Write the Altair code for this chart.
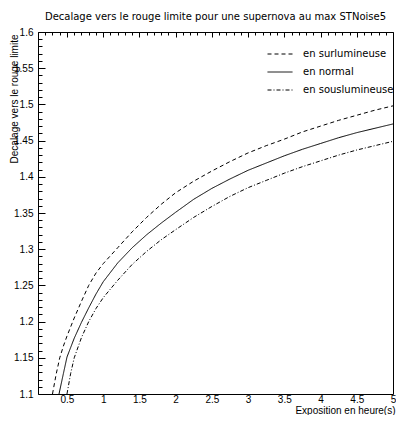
import altair as alt
import pandas as pd

# ---- data ----
x_sur = [0.30, 0.35, 0.4, 0.45, 0.5, 0.6, 0.7, 0.8, 0.9, 1.0, 1.2, 1.4, 1.6, 1.8, 2.0, 2.25, 2.5, 2.75, 3.0, 3.25, 3.5, 3.75, 4.0, 4.25, 4.5, 4.75, 5.0]
y_sur = [1.100, 1.127, 1.150, 1.166, 1.180, 1.205, 1.228, 1.250, 1.267, 1.280, 1.302, 1.324, 1.344, 1.362, 1.378, 1.394, 1.408, 1.421, 1.433, 1.443, 1.452, 1.462, 1.470, 1.478, 1.485, 1.492, 1.498]

x_norm = [0.39, 0.45, 0.5, 0.6, 0.7, 0.8, 0.9, 1.0, 1.2, 1.4, 1.6, 1.8, 2.0, 2.25, 2.5, 2.75, 3.0, 3.25, 3.5, 3.75, 4.0, 4.25, 4.5, 4.75, 5.0]
y_norm = [1.100, 1.128, 1.151, 1.177, 1.199, 1.219, 1.238, 1.255, 1.281, 1.302, 1.320, 1.336, 1.351, 1.369, 1.384, 1.397, 1.409, 1.419, 1.429, 1.438, 1.446, 1.454, 1.461, 1.467, 1.473]

x_sous = [0.50, 0.55, 0.6, 0.7, 0.8, 0.9, 1.0, 1.2, 1.4, 1.6, 1.8, 2.0, 2.25, 2.5, 2.75, 3.0, 3.25, 3.5, 3.75, 4.0, 4.25, 4.5, 4.75, 5.0]
y_sous = [1.100, 1.128, 1.150, 1.178, 1.200, 1.218, 1.233, 1.257, 1.279, 1.297, 1.313, 1.327, 1.344, 1.359, 1.373, 1.385, 1.395, 1.405, 1.414, 1.422, 1.430, 1.437, 1.443, 1.449]

series_names = ["en surlumineuse", "en normal", "en souslumineuse"]

x_ticks = [round(0.1 + 0.1 * i, 2) for i in range(50)]
y_ticks = [round(1.1 + 0.01 * i, 2) for i in range(51)]

rows = []
for name, xs, ys in zip(series_names, [x_sur, x_norm, x_sous], [y_sur, y_norm, y_sous]):
    for a, b in zip(xs, ys):
        rows.append({"x": a, "y": b, "serie": name, "order": a})
df = pd.DataFrame(rows)

FONT = "Liberation Sans"
FONT2 = "DejaVu Sans"
W, H = 355, 362

xscale = alt.Scale(domain=[0.1, 5], nice=False, zero=False)
yscale = alt.Scale(domain=[1.1, 1.6], nice=False, zero=False)
dash = alt.Scale(domain=series_names, range=[[4, 3], [1, 0], [4, 2, 1, 2]])

major_x = "abs(datum.value*2 - round(datum.value*2)) < 0.001"
major_y = "abs(datum.value*20 - round(datum.value*20)) < 0.001"

lines = alt.Chart(df).mark_line(color="black", strokeWidth=1, clip=True).encode(
    x=alt.X("x:Q", scale=xscale, axis=alt.Axis(
        orient="bottom", values=x_ticks, domain=False, ticks=False,
        grid=True, gridColor="black", gridOpacity=1, gridWidth=1,
        gridDash={"condition": {"test": major_x, "value": [5, 2000]}, "value": [3, 2000]},
        labelExpr=f"{major_x} && datum.value > 0.3 ? format(datum.value, '~g') : ''",
        labelOverlap=False, labelFlush=False,
        labelFont=FONT, labelFontSize=10, labelColor="black", labelPadding=0,
        title="Exposition en heure(s)", titleFont=FONT, titleFontSize=10,
        titleFontWeight="normal", titleColor="black", titleAnchor="end",
        titleAlign="right", titleX=W + 2, titleY=19, titleBaseline="alphabetic")),
    y=alt.Y("y:Q", scale=yscale, axis=alt.Axis(
        orient="left", values=y_ticks, domain=False, ticks=False,
        grid=True, gridColor="black", gridOpacity=1, gridWidth=1,
        gridDash={"condition": {"test": major_y, "value": [7, 2000]}, "value": [4, 2000]},
        labelExpr=f"{major_y} ? format(datum.value, '~g') : ''",
        labelOverlap=False, labelFlush=False,
        labelFont=FONT, labelFontSize=10, labelColor="black", labelPadding=5,
        title="Decalage vers le rouge limite", titleFont=FONT, titleFontSize=10,
        titleFontWeight="normal", titleColor="black", titleAngle=-90,
        titleAlign="right", titleBaseline="bottom", titleX=-19, titleY=2)),
    strokeDash=alt.StrokeDash("serie:N", scale=dash, sort=series_names, legend=alt.Legend(
        orient="none", legendX=229, legendY=9, title=None, symbolType="stroke",
        symbolSize=625, symbolStrokeWidth=1, symbolStrokeColor="black",
        labelFont=FONT2, labelFontSize=10, labelColor="black", labelOffset=10,
        rowPadding=-2, padding=0)),
    order="order:Q",
)

chart = lines.properties(
    width=W, height=H,
    title=alt.Title("Decalage vers le rouge limite pour une supernova au max STNoise5",
                    font=FONT2, fontSize=10, fontWeight="normal", color="black",
                    anchor="middle", frame="group", offset=5),
    autosize=alt.AutoSizeParams(type="none"),
    padding={"left": 30, "top": 24, "right": 3, "bottom": 21},
    background="white",
).configure_view(stroke="black", strokeWidth=1)

chart.save("out.html", embed_options={"renderer": "svg", "actions": False})
